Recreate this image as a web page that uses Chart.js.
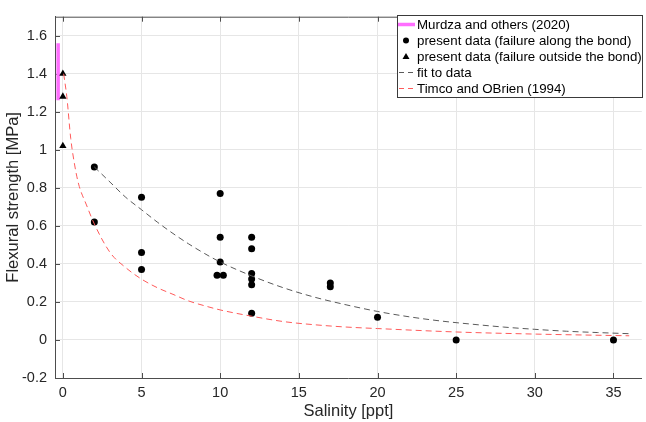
<!DOCTYPE html>
<html><head><meta charset="utf-8">
<script src="https://cdn.jsdelivr.net/npm/chart.js@4.4.0/dist/chart.umd.min.js"></script>
<style>html,body{margin:0;padding:0;background:#fff;}#wrap{width:646px;height:422px;}</style>
</head><body><div id="wrap"><canvas id="c" width="646" height="422"></canvas></div>
<script>
// ---- data ----
const xTicks = [0, 5, 10, 15, 20, 25, 30, 35];
const yTicks = [-0.2, 0, 0.2, 0.4, 0.6, 0.8, 1, 1.2, 1.4, 1.6];

const murdzaSalinity = [-0.3, -0.3];
const murdzaStrength = [1.26, 1.56];

const alongSalinity = [2, 2, 5, 5, 5, 10, 10, 10, 9.8, 10.2, 12, 12, 12, 12, 12, 12, 17, 17, 20, 25, 35];
const alongStrength = [0.91, 0.62, 0.75, 0.46, 0.37, 0.77, 0.54, 0.41, 0.34, 0.34, 0.54, 0.48, 0.35, 0.32, 0.29, 0.14, 0.30, 0.28, 0.12, 0, 0];

const outsideSalinity = [0, 0, 0];
const outsideStrength = [1.40, 1.28, 1.02];

const fitSalinity = [2, 3, 4, 5, 6, 7, 8, 9, 10, 12, 14, 16, 18, 20, 22, 24, 26, 28, 30, 32, 34, 36];
const fitStrength = [0.91, 0.83, 0.75, 0.685, 0.62, 0.56, 0.505, 0.455, 0.41, 0.337, 0.275, 0.225, 0.185, 0.15, 0.122, 0.10, 0.083, 0.068, 0.056, 0.046, 0.039, 0.033];

const timcoSalinity = [0.05, 0.25, 0.5, 0.75, 1, 1.5, 2, 3, 4, 5, 6, 7, 8, 9, 10, 12, 14, 16, 18, 20, 25, 30, 36];
const timcoStrength = [1.40, 1.28, 1.06, 0.92, 0.82, 0.71, 0.61, 0.46, 0.38, 0.32, 0.275, 0.24, 0.205, 0.18, 0.158, 0.125, 0.097, 0.08, 0.068, 0.06, 0.042, 0.031, 0.022];

const labels = [
  'Murdza and others (2020)',
  'present data (failure along the bond)',
  'present data (failure outside the bond)',
  'fit to data',
  'Timco and OBrien (1994)'
];

const FONT = "'Liberation Sans', Arial, Helvetica, sans-serif";
const pts = (xs, ys) => xs.map((x, i) => ({ x: x, y: ys[i] }));

const MAGENTA = '#ff6eff';
const FITCOL = '#5a5a5a';
const REDCOL = '#ff5a5a';

const insideTicks = {
  id: 'insideTicks',
  beforeDatasetsDraw(chart) {
    const { ctx, chartArea: a, scales } = chart;
    ctx.save();
    ctx.strokeStyle = '#4d4d4d';
    ctx.lineWidth = 1;
    ctx.beginPath();
    ctx.moveTo(a.left, a.top + 0.5);
    ctx.lineTo(a.right, a.top + 0.5);
    xTicks.forEach(v => {
      const px = Math.round(scales.x.getPixelForValue(v)) + 0.5;
      ctx.moveTo(px, a.bottom); ctx.lineTo(px, a.bottom - 5);
      ctx.moveTo(px, a.top); ctx.lineTo(px, a.top + 5);
    });
    yTicks.forEach(v => {
      const py = Math.round(scales.y.getPixelForValue(v)) + 0.5;
      ctx.moveTo(a.left, py); ctx.lineTo(a.left + 5, py);
    });
    ctx.stroke();
    ctx.restore();
  }
};

const boxLegend = {
  id: 'boxLegend',
  afterDraw(chart) {
    const ctx = chart.ctx;
    const L = 397, T = 15, W = 245, H = 82;
    ctx.save();
    ctx.fillStyle = '#ffffff';
    ctx.fillRect(L, T, W, H);
    ctx.strokeStyle = '#3a3a3a';
    ctx.lineWidth = 1;
    ctx.strokeRect(L + 0.5, T + 0.5, W, H);
    ctx.font = '13.3px ' + FONT;
    ctx.textBaseline = 'middle';
    ctx.textAlign = 'left';
    const ds = chart.data.datasets;
    ds.forEach((d, i) => {
      const y = T + 9.5 + 16 * i;
      if (i === 0) {
        ctx.strokeStyle = MAGENTA; ctx.lineWidth = 3.5; ctx.setLineDash([]);
        ctx.beginPath(); ctx.moveTo(398, y); ctx.lineTo(415, y); ctx.stroke();
      } else if (i === 1) {
        ctx.fillStyle = '#000';
        ctx.beginPath(); ctx.arc(406, y, 3, 0, Math.PI * 2); ctx.fill();
      } else if (i === 2) {
        ctx.fillStyle = '#000';
        ctx.beginPath(); ctx.moveTo(406, y - 3.5); ctx.lineTo(409.5, y + 2.5); ctx.lineTo(402.5, y + 2.5); ctx.closePath(); ctx.fill();
      } else {
        ctx.strokeStyle = d.borderColor; ctx.lineWidth = 1; ctx.setLineDash([5, 4]);
        ctx.beginPath(); ctx.moveTo(399, y); ctx.lineTo(415, y); ctx.stroke();
        ctx.setLineDash([]);
      }
      ctx.fillStyle = '#000';
      ctx.fillText(d.label, 417, y + 0.5);
    });
    ctx.restore();
  }
};

new Chart(document.getElementById('c'), {
  type: 'scatter',
  data: {
    datasets: [
      { label: labels[0], data: pts(murdzaSalinity, murdzaStrength), showLine: true,
        borderColor: MAGENTA, borderWidth: 3.5, pointRadius: 0, borderCapStyle: 'butt', order: 5 },
      { label: labels[1], data: pts(alongSalinity, alongStrength), pointStyle: 'circle',
        pointRadius: 3.5, backgroundColor: '#000', borderColor: '#000', borderWidth: 0, order: 4 },
      { label: labels[2], data: pts(outsideSalinity, outsideStrength), pointStyle: 'triangle',
        pointRadius: 4.2, backgroundColor: '#000', borderColor: '#000', borderWidth: 0, order: 3 },
      { label: labels[3], data: pts(fitSalinity, fitStrength), showLine: true, borderColor: FITCOL,
        borderWidth: 1, borderDash: [6, 4], pointRadius: 0, cubicInterpolationMode: 'monotone', order: 2 },
      { label: labels[4], data: pts(timcoSalinity, timcoStrength), showLine: true, borderColor: REDCOL,
        borderWidth: 1, borderDash: [6, 4], pointRadius: 0, cubicInterpolationMode: 'monotone', order: 1 }
    ]
  },
  options: {
    responsive: false,
    animation: false,
    layout: { padding: { top: 9, left: 0, right: 0, bottom: 0 } },
    plugins: { legend: { display: false }, tooltip: { enabled: false } },
    scales: {
      x: {
        type: 'linear', min: -0.5, max: 36.8,
        afterBuildTicks: s => { s.ticks = xTicks.map(v => ({ value: v })); },
        afterFit: s => { s.height = 44; },
        ticks: { callback: v => String(v), font: { family: FONT, size: 14.5 }, color: '#262626',
                 padding: 6, maxRotation: 0, autoSkip: false },
        grid: { color: '#e6e6e6', drawTicks: false, lineWidth: 1 },
        border: { color: '#4d4d4d', width: 1 },
        title: { display: true, text: 'Salinity [ppt]', font: { family: FONT, size: 16.5 },
                 color: '#262626', padding: { top: 0, bottom: 1 } }
      },
      y: {
        type: 'linear', min: -0.2, max: 1.7,
        afterBuildTicks: s => { s.ticks = yTicks.map(v => ({ value: v })); },
        afterFit: s => { s.width = 55; },
        ticks: { callback: v => String(Math.round(v * 10) / 10), font: { family: FONT, size: 14.5 },
                 color: '#262626', padding: 8, autoSkip: false },
        grid: { color: '#e6e6e6', drawTicks: false, lineWidth: 1 },
        border: { color: '#4d4d4d', width: 1 },
        title: { display: true, text: 'Flexural strength [MPa]', font: { family: FONT, size: 16.5 },
                 color: '#262626', padding: { top: 4, bottom: 0 } }
      }
    }
  },
  plugins: [insideTicks, boxLegend]
});
</script>
</body></html>
